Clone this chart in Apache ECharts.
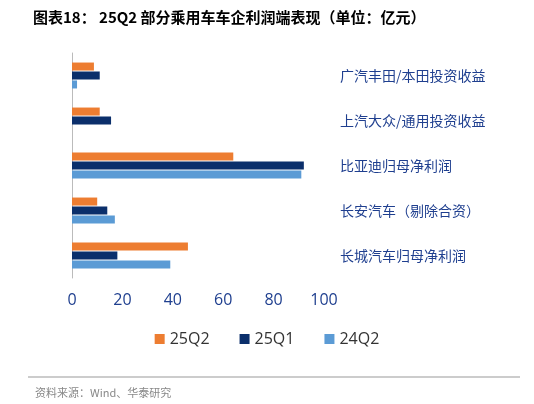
<!DOCTYPE html>
<html><head><meta charset="utf-8">
<script src="https://cdn.jsdelivr.net/npm/echarts@6/dist/echarts.min.js"></script>
<style>body{margin:0;background:#fff}#c{width:534px;height:404px}</style>
</head><body><div id="c"></div>
<script>
var categories = ['广汽丰田/本田投资收益', '上汽大众/通用投资收益', '比亚迪归母净利润', '长安汽车（剔除合资）', '长城汽车归母净利润'];
var s25Q2 = [8.7, 11, 64, 10, 46];
var s25Q1 = [11, 15.5, 92, 14, 18];
var s24Q2 = [2, null, 91, 17, 39];
var xTicks = [0, 20, 40, 60, 80, 100];

var chart = echarts.init(document.getElementById('c'));
function bar(name, data, color) {
  return { name: name, type: 'bar', data: data, barWidth: 8, barGap: '12%', itemStyle: { color: color } };
}
chart.setOption({
  animation: false,
  title: [{
    text: '图表18： 25Q2 部分乘用车车企利润端表现（单位：亿元）',
    left: 28, top: 5,
    textStyle: { fontSize: 15, fontWeight: 'bold', color: '#000', fontFamily: 'Noto Sans CJK SC' }
  }, {
    text: '资料来源：Wind、华泰研究',
    left: 30, top: 382,
    textStyle: { fontSize: 11, fontWeight: 'normal', color: '#888', fontFamily: 'Noto Sans CJK SC' }
  }],
  graphic: [
    { type: 'line', shape: { x1: 28, y1: 377, x2: 520, y2: 377 }, style: { stroke: '#999', lineWidth: 1 } }
  ],
  legend: {
    bottom: 52, left: 'center', itemWidth: 10, itemHeight: 10, itemGap: 30,
    icon: 'rect',
    textStyle: { fontSize: 16, color: '#333', fontFamily: 'Open Sans' },
    data: ['25Q2', '25Q1', '24Q2']
  },
  grid: { left: 72, right: 210, top: 53, bottom: 126 },
  xAxis: {
    type: 'value', min: 0, max: 100, interval: 20,
    axisLine: { show: false }, axisTick: { show: false }, splitLine: { show: false },
    axisLabel: { fontSize: 16, color: '#1f3f8f', margin: 14, fontFamily: 'Open Sans',
      formatter: function (v) { return xTicks.indexOf(v) >= 0 ? v : ''; } }
  },
  yAxis: [{
    type: 'category', data: categories, inverse: true, position: 'left',
    axisLine: { show: true, lineStyle: { color: '#bbb' } }, axisTick: { show: false },
    axisLabel: { show: false }
  }, {
    type: 'category', data: categories, inverse: true, position: 'right',
    axisLine: { show: false }, axisTick: { show: false },
    axisLabel: { fontSize: 14, color: '#1f3f8f', margin: 16, align: 'left', fontFamily: 'Noto Sans CJK SC' }
  }],
  series: [
    bar('25Q2', s25Q2, '#ED7D31'),
    bar('25Q1', s25Q1, '#0B2F6B'),
    bar('24Q2', s24Q2, '#5B9BD5')
  ]
});
</script></body></html>
